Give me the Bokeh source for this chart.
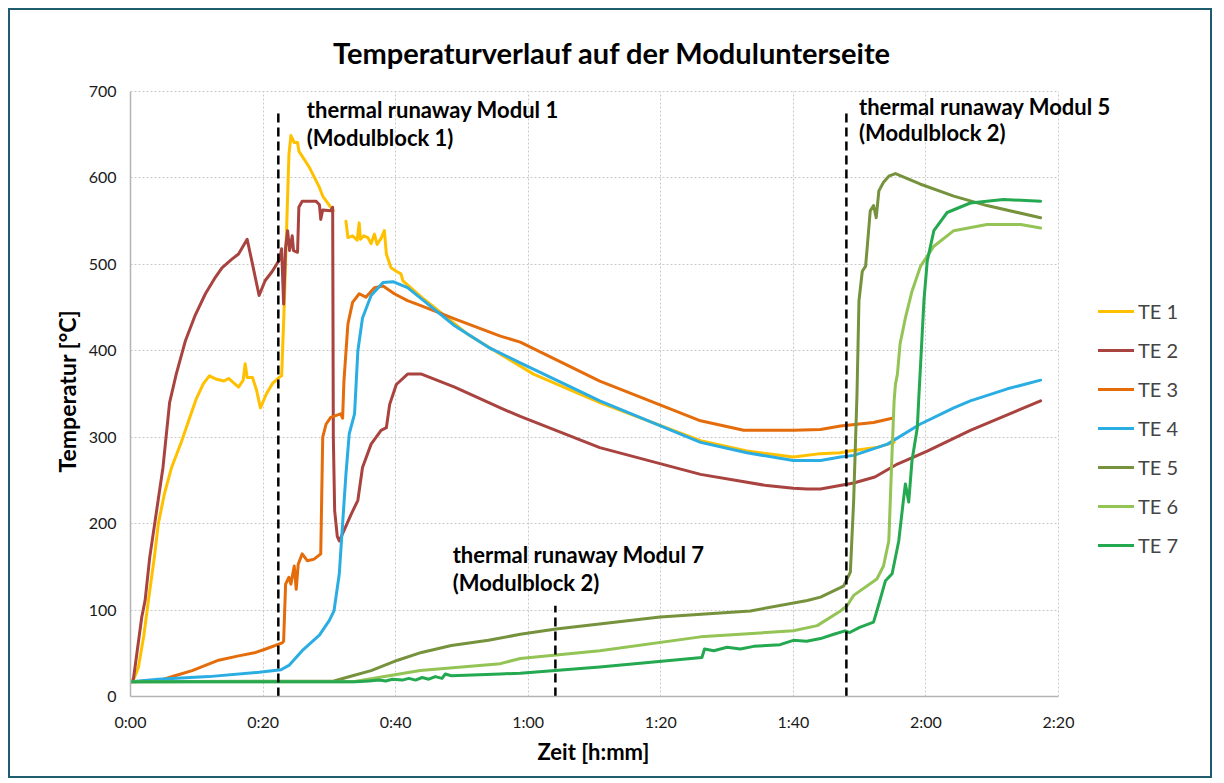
import numpy as np
from bokeh.plotting import figure
from bokeh.models import Range1d, FixedTicker, Label, Legend, LegendItem, ColumnDataSource, Grid, Title
from bokeh.embed import file_html
from bokeh.resources import INLINE

nan = float("nan")

# ---------------- data (time in minutes, temperature in °C) ----------------
x_ticks = [0, 20, 40, 60, 80, 100, 120, 140]
x_tick_labels = ["0:00", "0:20", "0:40", "1:00", "1:20", "1:40", "2:00", "2:20"]
y_ticks = [0, 100, 200, 300, 400, 500, 600, 700]

te1_t = [0, 0.6, 1.2, 2.0, 2.7, 3.6, 4.2, 5.1, 6.2, 7.7, 8.9, 9.9, 11.0, 11.9, 13.0, 14.1, 14.8, 16.3, 17.0, 17.3, 17.6,
         18.4, 19.0, 19.6, 20.5, 21.4,
         22.4, 22.8, 23.2, 23.9, 24.2, 24.7, 25.2, 25.4, 27.0, 28.5, 29.0, 30.6, nan, 32.5, 32.8, 33.5, 34.2, 34.5, 34.7,
         35.2, 35.8, 36.3, 36.8, 37.2, 37.8, 38.3, 38.6, 39.3, 40.1, 40.8, 41.1, 43.9, 45.9, 50.9, 55.8, 60.8, 70.8,
         86.0, 93.0, 100.0, 104.1, 107.1, 108.5, 112.5, 115.2]
te1_T = [17, 22, 34, 70, 111, 161, 200, 234, 265, 295, 322, 344, 362, 371, 367, 365, 368, 358, 366, 385, 369,
         369, 355, 334, 350, 362,
         369, 371, 454, 627, 649, 641, 641, 631, 612, 589, 579, 562, nan, 550, 531, 533, 528, 548, 529,
         533, 531, 524, 535, 523, 530, 539, 512, 496, 492, 489, 481, 462, 450, 419, 396, 373, 340,
         296, 284, 277, 281, 282, 284, 288, 294]

te2_t = [0, 0.4, 1.7, 2.2, 2.9, 4.9, 5.9, 6.9, 8.3, 9.7, 11.3, 12.8, 13.8, 15.3, 16.3, 17.6, 18.3, 19.4, 20.3, 21.4,
         22.5, 22.8, 23.1, 23.4, 23.7,
         24.0, 24.4, 24.6, 25.2, 25.4, 25.9, 28.0, 28.5, 28.7, 29.0, 30.2, 30.5, 30.6, 30.8, 31.2, 31.5, 32.2, 33.3,
         34.3, 35.0, 36.3, 37.8, 38.6, 39.1, 40.1, 41.8, 43.9, 48.9, 55.8, 58.8, 70.8, 86.0, 96.0, 100.0, 102.1,
         104.1, 109.1, 112.3, 115.7, 120.2, 126.7, 137.3]
te2_T = [17, 18, 92, 111, 161, 265, 340, 373, 412, 440, 466, 485, 496, 506, 512, 529, 504, 464, 481, 492,
         506, 518, 454, 520, 539,
         516, 533, 516, 514, 566, 573, 573, 569, 552, 563, 562, 566, 300, 215, 185, 180, 192, 211,
         227, 265, 292, 308, 311, 338, 361, 373, 373, 358, 334, 324, 288, 257, 244, 241, 240,
         240, 247, 254, 269, 284, 308, 342]

te3_t = [0, 4.2, 6.7, 9.3, 13.3, 16.3, 18.9, 20.4, 22.9, 23.1, 23.4, 23.9, 24.2, 24.7, 25.0, 25.3, 25.9, 26.7, 27.7,
         28.7, 29.0, 29.5, 30.2, 31.7, 32.0, 32.2, 32.8, 33.5, 34.5, 35.5, 36.8, 38.1, 39.8, 41.8, 43.9, 48.9, 55.8,
         58.8, 70.8, 86.0, 92.5, 100.0, 104.1, 107.1, 112.1, 114.9]
te3_T = [17, 18, 24, 30, 42, 47, 51, 55, 62, 64, 130, 138, 130, 151, 124, 153, 165, 157, 159,
         165, 300, 315, 323, 327, 322, 365, 431, 456, 466, 462, 473, 475, 466, 458, 452, 437, 417,
         410, 365, 319, 308, 308, 309, 313, 317, 322]

te4_t = [0, 4.2, 11.8, 19.4, 22.7, 23.9, 25.9, 28.5, 30.0, 30.7, 31.5, 32.0, 32.5, 33.0, 33.8, 34.3, 35.0, 36.3, 38.1,
         39.6, 41.8, 43.9, 48.9, 54.0, 58.8, 70.8, 86.0, 93.0, 100.0, 104.1, 107.1, 109.1, 114.2, 119.1, 124.2, 126.7,
         132.3, 137.3]
te4_T = [17, 20, 23, 28, 31, 36, 53, 71, 88, 99, 142, 200, 257, 304, 327, 400, 438, 464, 479,
         480, 473, 460, 429, 404, 386, 342, 294, 282, 273, 273, 277, 279, 292, 315, 334, 342,
         356, 366]

te5_t = [0, 30.7, 33.5, 36.3, 40.3, 43.9, 48.4, 54.0, 58.8, 64.2, 79.9, 93.5, 102.1, 104.1, 107.1, 107.6, 108.6, 109.1,
         109.6, 109.9, 110.4, 110.9, 111.1, 111.6, 112.1, 112.5, 112.9, 113.6, 114.4, 115.4, 119.1, 124.2, 129.2, 137.3]
te5_T = [17, 18, 24, 30, 42, 51, 59, 65, 72, 78, 92, 99, 111, 115, 126, 128, 144, 227,
         350, 458, 492, 498, 516, 562, 568, 554, 585, 595, 602, 605, 593, 579, 568, 554]

te6_t = [0, 33.6, 43.7, 55.8, 58.8, 70.8, 86.0, 100.0, 103.6, 107.1, 108.1, 109.1, 112.6, 113.6, 114.4, 114.9, 115.2,
         115.4, 115.7, 116.1, 116.9, 117.9, 119.2, 121.2, 124.2, 129.2, 134.3, 137.3]
te6_T = [17, 17, 30, 38, 44, 53, 69, 76, 82, 99, 105, 117, 136, 151, 180, 284, 342,
         361, 373, 408, 438, 469, 498, 521, 539, 546, 546, 542]

te7_t = [0, 34, 36, 37.5, 38.5, 39.5, 41, 42, 43, 44, 45, 46, 47, 47.5, 48.4, 55.8, 58.8, 70.8, 86.2, 86.6, 88, 90, 92,
         94, 96, 98, 100, 102, 104.1, 106.1, 107.8, 108.5, 110, 112.1, 112.9, 113.9, 114.9, 115.9, 116.6, 116.9, 117.4,
         117.9, 118.7, 118.9, 119.2, 119.7, 120.2, 121.2, 123.2, 126.7, 131.7, 137.3]
te7_T = [17, 17, 18, 19, 18, 20, 19, 21, 19, 22, 20, 23, 21, 26, 24, 26, 27, 34, 45, 55, 53, 57, 55,
         58, 59, 60, 65, 64, 67, 72, 76, 74, 80, 86, 107, 134, 142, 180, 227, 246, 225,
         273, 311, 342, 385, 458, 504, 539, 560, 571, 575, 573]

series_names = ["TE 1", "TE 2", "TE 3", "TE 4", "TE 5", "TE 6", "TE 7"]
series_t = [te1_t, te2_t, te3_t, te4_t, te5_t, te6_t, te7_t]
series_T = [te1_T, te2_T, te3_T, te4_T, te5_T, te6_T, te7_T]
series_colors = ["#FFC000", "#A9433F", "#E46C0A", "#2AADE3", "#76923C", "#94C356", "#24A850"]

runaway_t = [22.3, 108.0, 64.1]
runaway_top = [680, 680, 105]
runaway_text = [("thermal runaway Modul 1", "(Modulblock 1)"),
                ("thermal runaway Modul 5", "(Modulblock 2)"),
                ("thermal runaway Modul 7", "(Modulblock 2)")]
runaway_text_pos = [(26.6, 679, 647), (109.9, 683, 652), (48.6, 164, 132)]

title_text = "Temperaturverlauf auf der Modulunterseite"
x_label = "Zeit [h:mm]"
y_label = "Temperatur [°C]"

FONT = "Lato"

# ---------------- layout geometry ----------------
W, H = 1204, 770
B_LEFT, B_BOTTOM, B_RIGHT, B_TOP = 120, 84, 2, 2
AX_W, AX_H = 928, 605            # pixel size of the 0..140 min / 0..700 °C area
x_max, y_max = 140, 700
frame_w = W - B_LEFT - B_RIGHT
frame_h = H - B_TOP - B_BOTTOM
x_end = x_max * frame_w / AX_W   # frame extends right of 2:20 (legend / labels live there)
y_end = y_max * frame_h / AX_H   # frame extends above 700 (title lives there)

p = figure(width=W, height=H, x_range=Range1d(0, x_end), y_range=Range1d(0, y_end),
           output_backend="svg", toolbar_location=None,
           min_border_left=B_LEFT, min_border_right=B_RIGHT, min_border_top=B_TOP, min_border_bottom=B_BOTTOM)
p.margin = (8, 0, 0, 8)
p.styles = {"border": "2px solid #1E5C6E"}
p.outline_line_color = None
p.background_fill_color = "white"
p.border_fill_color = "white"

# grid
p.xgrid.ticker = FixedTicker(ticks=x_ticks)
p.ygrid.ticker = FixedTicker(ticks=y_ticks)
if "cross_bounds" in Grid.properties():
    p.xgrid.cross_bounds = (0, y_max)
    p.ygrid.cross_bounds = (0, x_max)
    for g in (p.xgrid[0], p.ygrid[0]):
        g.grid_line_color = "#C8C8C8"
        g.grid_line_dash = "2 2"
        g.grid_line_width = 1
else:
    p.xgrid.visible = False
    p.ygrid.visible = False
    p.segment(x0=x_ticks, y0=[0] * len(x_ticks), x1=x_ticks, y1=[y_max] * len(x_ticks),
              line_color="#C8C8C8", line_dash="2 2", line_width=1)
    p.segment(x0=[0] * len(y_ticks), y0=y_ticks, x1=[x_max] * len(y_ticks), y1=y_ticks,
              line_color="#C8C8C8", line_dash="2 2", line_width=1)

renderers = []
for name, t, T, c in zip(series_names, series_t, series_T, series_colors):
    assert len(t) == len(T), name
    src = ColumnDataSource(dict(t=np.array(t, dtype=float), T=np.array(T, dtype=float)))
    r = p.line("t", "T", source=src, line_color=c, line_width=3, line_join="round", line_cap="round")
    renderers.append(r)

p.segment(x0=runaway_t, y0=[0] * len(runaway_t), x1=runaway_t, y1=runaway_top,
          line_color="black", line_width=2.5, line_dash="9 5")

for (l1, l2), (tx, y1, y2) in zip(runaway_text, runaway_text_pos):
    for txt, yy in ((l1, y1), (l2, y2)):
        p.add_layout(Label(x=tx, y=yy, text=txt, text_align="left", text_baseline="alphabetic",
                           text_font=FONT, text_font_style="bold", text_font_size="22px",
                           text_color="black"))

p.add_layout(Label(x=72.7, y=745, text=title_text, text_align="center", text_baseline="alphabetic",
                   text_font=FONT, text_font_style="bold", text_font_size="29px", text_color="black"))

# axes
p.xaxis.ticker = FixedTicker(ticks=x_ticks)
p.xaxis.major_label_overrides = {k: v for k, v in zip(x_ticks, x_tick_labels)}
p.yaxis.ticker = FixedTicker(ticks=y_ticks)
p.xaxis.bounds = (0, x_max)
p.yaxis.bounds = (0, y_max)
for ax in (p.xaxis[0], p.yaxis[0]):
    ax.axis_line_color = "#B3B3B3"
    ax.axis_line_width = 1.5
    ax.major_tick_line_color = None
    ax.minor_tick_line_color = None
    ax.major_label_text_font = FONT
    ax.major_label_text_font_size = "16px"
    ax.major_label_text_color = "#1a1a1a"
p.xaxis.major_label_standoff = 9
p.yaxis.major_label_standoff = 8

# axis titles, centred on the 0..140 / 0..700 part of the axes
p.add_layout(Title(text=x_label, align="left", offset=407, vertical_align="top", standoff=9,
                   text_font=FONT, text_font_style="bold", text_font_size="22px", text_color="black"), "below")
p.add_layout(Title(text=y_label, align="left", offset=224, vertical_align="bottom", standoff=10,
                   text_font=FONT, text_font_style="bold", text_font_size="23px", text_color="black"), "left")

legend = Legend(items=[LegendItem(label=n, renderers=[r]) for n, r in zip(series_names, renderers)],
                location=(968, 139), orientation="vertical",
                glyph_width=36, glyph_height=24, label_height=24, spacing=15, padding=0, margin=0,
                label_standoff=4, label_text_font=FONT, label_text_font_size="20px",
                border_line_color=None, background_fill_alpha=0)
p.add_layout(legend)

open("out.html", "w").write(file_html(p, INLINE))
